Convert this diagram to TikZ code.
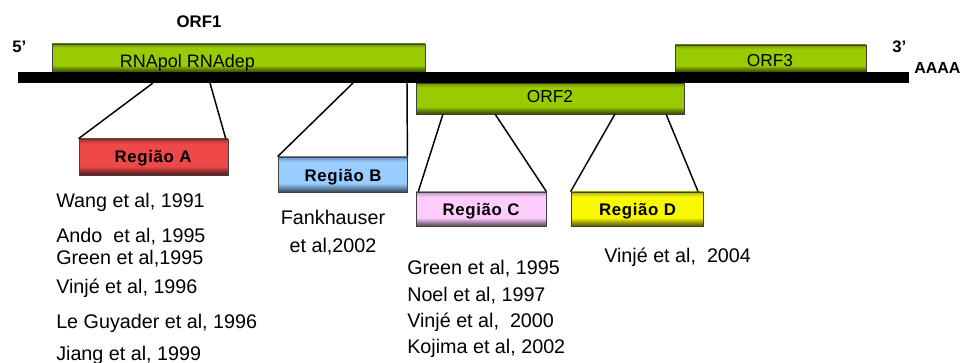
\documentclass[tikz,border=0pt]{standalone}
\usepackage{fontspec}
\setmainfont{Liberation Sans}
\definecolor{orfgreen}{HTML}{99CC00}
\definecolor{regred}{HTML}{EE4848}
\definecolor{regblue}{HTML}{99CCFF}
\definecolor{regpink}{HTML}{FFCCFF}
\definecolor{regyellow}{HTML}{F8F800}
\colorlet{boxcol}{orfgreen}
\pgfdeclareverticalshading[boxcol]{boxshade}{100bp}{color(0bp)=(boxcol!35!black); color(25bp)=(boxcol!35!black); color(30bp)=(boxcol!60!black); color(37bp)=(boxcol); color(68bp)=(boxcol); color(75bp)=(boxcol!72!black); color(100bp)=(boxcol!72!black)}
\begin{document}
\begin{tikzpicture}[x=0.75pt,y=-0.75pt,
  shbox/.style={/utils/exec={\colorlet{boxcol}{#1}}, shading=boxshade, draw=black!75, line width=0.6pt, inner sep=0pt},
  link/.style={line width=1.1pt, black},
  reftext/.style={anchor=base west, inner sep=0pt, font=\fontsize{14.8}{17}\selectfont},
  orflabel/.style={anchor=base, inner sep=0pt, font=\fontsize{13}{15}\selectfont},
  reglabel/.style={anchor=base, inner sep=0pt, font=\fontsize{12.6}{15}\selectfont\bfseries\addfontfeatures{LetterSpace=4}},
  endlabel/.style={anchor=west, inner sep=0pt, font=\fontsize{12.5}{15}\selectfont\bfseries}]
\useasboundingbox (0,0) rectangle (969,363);

% ORF boxes
\node[shbox=orfgreen, minimum width=279.75pt, minimum height=21pt] (orf1) at (238.5,58) {};
\node[shbox=orfgreen, minimum width=143.25pt, minimum height=20.25pt] (orf3) at (770.5,58.5) {};
\node[shbox=orfgreen, minimum width=201pt, minimum height=23.25pt] (orf2) at (550,98.5) {};

% genome bar
\node[fill=black, inner sep=0pt, minimum width=668.25pt, minimum height=8.25pt] (bar) at (463.5,77.5) {};

% region boxes
\node[shbox=regred, minimum width=111.75pt, minimum height=27pt] (regA) at (153.5,157) {};
\node[shbox=regblue, minimum width=96.75pt, minimum height=26.25pt] (regB) at (342.5,174.5) {};
\node[shbox=regpink, minimum width=97.5pt, minimum height=25.5pt] (regC) at (481,209) {};
\node[shbox=regyellow, minimum width=99pt, minimum height=25.5pt] (regD) at (637,209) {};

% box labels
\node[orflabel, font=\fontsize{13.5}{15}\selectfont] (trna) at (187.5,68) {RNApol RNAdep};
\node[orflabel] (torf2) at (550,103) {ORF2};
\node[orflabel] (torf3) at (770,67) {ORF3};
\node[reglabel] (tA) at (153,163) {Região A};
\node[reglabel] (tB) at (343,181) {Região B};
\node[reglabel] (tC) at (481,215) {Região C};
\node[reglabel] (tD) at (637.5,215) {Região D};

% top labels
\node[inner sep=0pt, font=\fontsize{12.6}{15}\selectfont\bfseries] (torf1) at (199,22) {ORF1};
\node[endlabel] (five) at (12,47) {5'};
\node[endlabel] (three) at (892,47) {3'};
\node[endlabel, font=\fontsize{12}{14}\selectfont\bfseries] (polya) at (914,68) {AAAA};

% connector start points
\coordinate (a1) at (153,83);
\coordinate (a2) at (210,83);
\coordinate (b1) at (353,83);
\coordinate (b2) at (407,83);
\coordinate (c1) at (443,114);
\coordinate (c2) at (495,114);
\coordinate (d1) at (615,114);
\coordinate (d2) at (666,114);

\draw[link] (a1) -- (regA.north west);
\draw[link] (a2) -- ([xshift=-2pt]regA.north east);
\draw[link] (b1) -- (regB.north west);
\draw[link] (b2) -- (regB.north east);
\draw[link] (c1) -- ([xshift=2pt]regC.north west);
\draw[link] (c2) -- (regC.north east);
\draw[link] (d1) -- (regD.north west);
\draw[link] (d2) -- ([xshift=-4pt]regD.north east);

% references
\node[reftext] (r1) at (56,208) {Wang et al, 1991};
\node[reftext] (r2) at (56,242) {Ando~ et al, 1995};
\node[reftext] (r3) at (56,264) {Green et al,1995};
\node[reftext] (r4) at (56,293) {Vinjé et al, 1996};
\node[reftext] (r5) at (56,328) {Le Guyader et al, 1996};
\node[reftext] (r6) at (56,360) {Jiang et al, 1999};

\node[reftext, anchor=base] (f1) at (333,224) {Fankhauser};
\node[reftext, anchor=base] (f2) at (333,252) {et al,2002};

\node[reftext] (c1t) at (407,274) {Green et al, 1995};
\node[reftext] (c2t) at (407,301) {Noel et al, 1997};
\node[reftext] (c3t) at (407,327) {Vinjé et al,~ 2000};
\node[reftext] (c4t) at (407,353) {Kojima et al, 2002};

\node[reftext] (dt) at (604,262) {Vinjé et al,~ 2004};
\end{tikzpicture}
\end{document}
